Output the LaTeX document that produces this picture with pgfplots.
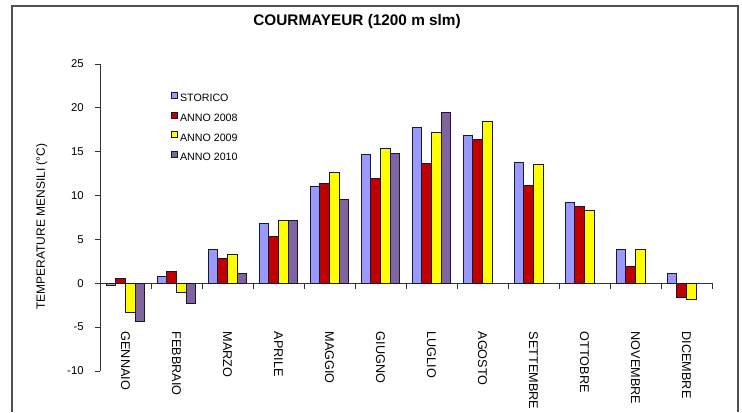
\documentclass[border=0pt]{standalone}
\usepackage{pgfplots}
\pgfplotsset{compat=1.18}
\usepackage{fontspec}
\setmainfont{Liberation Sans}

\begin{document}
\begin{tikzpicture}[x=1pt,y=1pt]
    \definecolor{storico}{RGB}{153,153,255}
    \definecolor{anno2008}{RGB}{192,0,0}
    \definecolor{anno2009}{RGB}{255,255,0}
    \definecolor{anno2010}{RGB}{128,100,160}
    \definecolor{barline}{RGB}{25,25,45}
    \definecolor{framegray}{RGB}{80,80,80}

    % outer frame (1px = 0.75pt, bottom edge cut off as in the source)
    \draw[framegray, line width=1.1pt] (9,0) -- (9,304.5) -- (553.5,304.5) -- (553.5,0);

    \begin{axis}[
            at={(75pt,30.75pt)},
            anchor=south west,
            scale only axis,
            width=459pt,
            height=230.25pt,
            ybar=0pt,
            bar width=7.2pt,
            xmin=-0.5, xmax=11.5,
            ymin=-10, ymax=25,
            axis x line=middle,
            axis y line=left,
            axis line style={-, black!80, line width=0.75pt},
            hide obscured x ticks=false,
            hide obscured y ticks=false,
            tick align=outside,
            tick style={black!80, line width=0.75pt},
            major tick length=3.75pt,
            minor tick length=4pt,
            ytick={-10,-5,...,25},
            xtick={0,...,11},
            minor xtick={0.5,1.5,...,11.5},
            major x tick style={draw=none},
            xticklabels={GENNAIO,FEBBRAIO,MARZO,APRILE,MAGGIO,GIUGNO,LUGLIO,AGOSTO,SETTEMBRE,OTTOBRE,NOVEMBRE,DICEMBRE},
            xticklabel style={yshift=-29pt, rotate=-90, anchor=west, font=\fontsize{9.5}{10}\selectfont},
            yticklabel style={xshift=-5pt, font=\fontsize{8.5}{10}\selectfont},
            /pgf/number format/assume math mode=true,
            ylabel={TEMPERATURE MENSILI (°C)},
            ylabel style={at={(axis description cs:-0.095,0.47)}, anchor=center, font=\fontsize{9}{10}\selectfont},
            title={\textbf{COURMAYEUR (1200 m slm)}},
            title style={at={(axis description cs:0.42,1.111)}, anchor=center, font=\fontsize{11.5}{13}\selectfont},
            legend cell align={left},
            legend style={
                    draw=none, fill=none,
                    at={(0.115,0.91)},
                    anchor=north west,
                    inner sep=0pt,
                    row sep=6.9pt,
                    column sep=1.5pt,
                    font=\fontsize{8}{9}\selectfont,
                    nodes={inner sep=0.6pt, text height=6pt, text depth=0pt},
                },
            every axis plot post/.append style={
                    draw=barline, line width=0.75pt,
                    legend image code/.code={\draw[##1, line width=0.6pt] (0pt,-0.4pt) rectangle (4.4pt,4pt);},
                },
        ]
        \addplot [fill=storico]
        table {%
                x y
                0 -0.2
                1 0.8
                2 3.8
                3 6.8
                4 11.0
                5 14.7
                6 17.8
                7 16.9
                8 13.8
                9 9.2
                10 3.9
                11 1.1
            };
        \addlegendentry{STORICO}
        \addplot [fill=anno2008]
        table {%
                x y
                0 0.6
                1 1.4
                2 2.8
                3 5.3
                4 11.4
                5 11.9
                6 13.7
                7 16.4
                8 11.1
                9 8.8
                10 1.9
                11 -1.6
            };
        \addlegendentry{ANNO 2008}
        \addplot [fill=anno2009]
        table {%
                x y
                0 -3.3
                1 -1.1
                2 3.3
                3 7.2
                4 12.6
                5 15.4
                6 17.2
                7 18.4
                8 13.5
                9 8.3
                10 3.8
                11 -1.8
            };
        \addlegendentry{ANNO 2009}
        \addplot [fill=anno2010]
        table {%
                x y
                0 -4.3
                1 -2.3
                2 1.1
                3 7.2
                4 9.6
                5 14.8
                6 19.5
            };
        \addlegendentry{ANNO 2010}
    \end{axis}

    \pgfresetboundingbox
    \useasboundingbox (0,0) rectangle (556.5,309);
\end{tikzpicture}
\end{document}
